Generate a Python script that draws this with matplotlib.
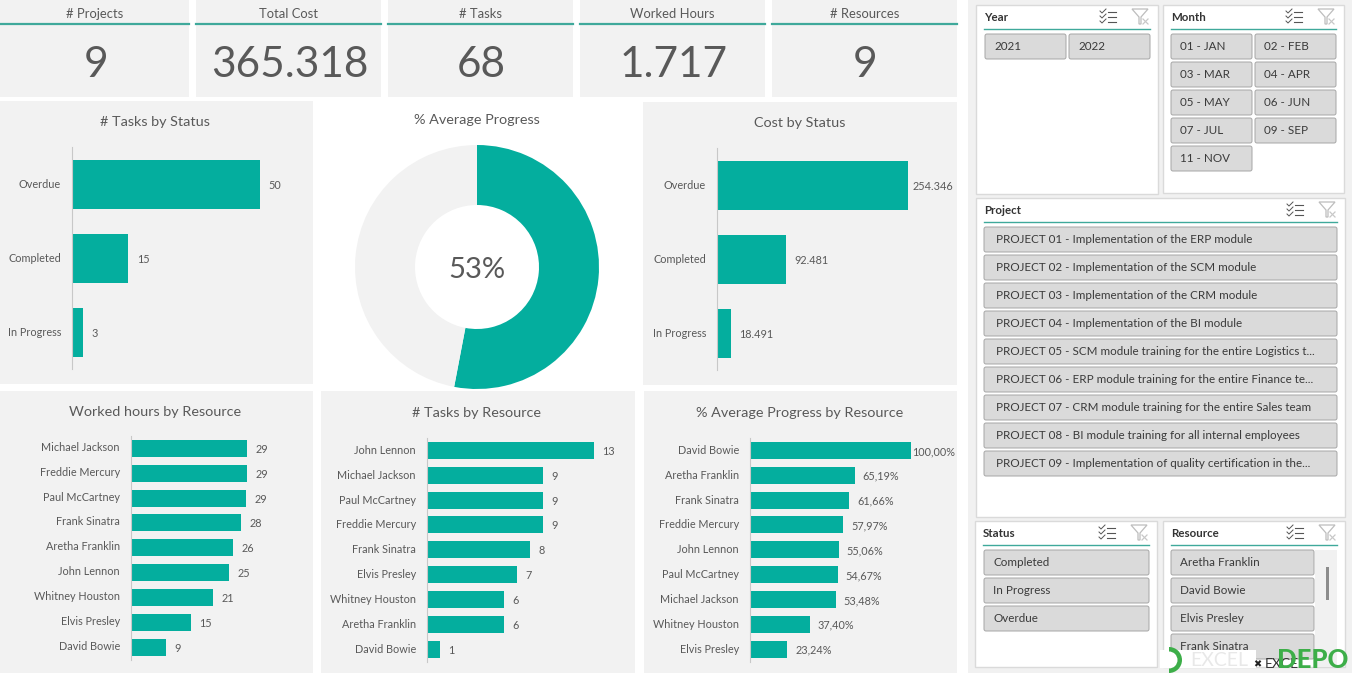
import matplotlib
matplotlib.use("Agg")
import matplotlib.pyplot as plt
from matplotlib.patches import Rectangle, FancyBboxPatch, Polygon, Wedge
from matplotlib.transforms import ScaledTranslation

plt.rcParams["font.family"] = ["Lato", "DejaVu Sans"]

W, H = 1352, 673
TEAL = "#04AE9E"
LINE = "#3FA99B"
PANEL = "#F2F2F2"
TXT = "#595959"

# KPI cards
kpi_titles = ["# Projects", "Total Cost", "# Tasks", "Worked Hours", "# Resources"]
kpi_values = ["9", "365.318", "68", "1.717", "9"]

# charts data
status_names = ["Overdue", "Completed", "In Progress"]
tasks_by_status = [50, 15, 3]
cost_by_status = [254346, 92481, 18491]
cost_labels = ["254.346", "92.481", "18.491"]
avg_progress = 53

hours_names = ["Michael Jackson", "Freddie Mercury", "Paul McCartney", "Frank Sinatra", "Aretha Franklin",
               "John Lennon", "Whitney Houston", "Elvis Presley", "David Bowie"]
hours_values = [29, 29, 28.8, 27.6, 25.6, 24.6, 20.6, 15, 8.8]

tasks_names = ["John Lennon", "Michael Jackson", "Paul McCartney", "Freddie Mercury", "Frank Sinatra",
               "Elvis Presley", "Whitney Houston", "Aretha Franklin", "David Bowie"]
tasks_values = [13, 9, 9, 9, 8, 7, 6, 6, 1]

progress_names = ["David Bowie", "Aretha Franklin", "Frank Sinatra", "Freddie Mercury", "John Lennon",
                  "Paul McCartney", "Michael Jackson", "Whitney Houston", "Elvis Presley"]
progress_values = [100.00, 65.19, 61.66, 57.97, 55.06, 54.67, 53.48, 37.40, 23.24]

# slicers
years = ["2021", "2022"]
months = ["01 - JAN", "02 - FEB", "03 - MAR", "04 - APR", "05 - MAY", "06 - JUN", "07 - JUL", "09 - SEP", "11 - NOV"]
projects = ["PROJECT 01 - Implementation of the ERP module",
            "PROJECT 02 - Implementation of the SCM module",
            "PROJECT 03 - Implementation of the CRM module",
            "PROJECT 04 - Implementation of the BI module",
            "PROJECT 05 - SCM module training for the entire Logistics t...",
            "PROJECT 06 - ERP module training for the entire Finance te...",
            "PROJECT 07 - CRM module training for the entire Sales team",
            "PROJECT 08 - BI module training for all internal employees",
            "PROJECT 09 - Implementation of quality certification in the..."]
statuses = ["Completed", "In Progress", "Overdue"]
resources = ["Aretha Franklin", "David Bowie", "Elvis Presley", "Frank Sinatra"]

fig = plt.figure(figsize=(W / 100, H / 100), dpi=100, facecolor="white")

# overlay in pixel coords for the dashboard frame
bg = fig.add_axes([0, 0, 1, 1], zorder=0)
bg.set_xlim(0, W)
bg.set_ylim(H, 0)
bg.axis("off")


def add_axes_px(x0, y0, x1, y1, **kw):
    return fig.add_axes([x0 / W, 1 - y1 / H, (x1 - x0) / W, (y1 - y0) / H], **kw)


def panel(x0, y0, x1, y1, color=PANEL, edge="none"):
    bg.add_patch(Rectangle((x0, y0), x1 - x0, y1 - y0, fc=color, ec=edge, lw=1))


# KPI cards
kpi_x = [(0, 189), (196, 381), (388, 573), (580, 765), (772, 957)]
for (x0, x1), t, v in zip(kpi_x, kpi_titles, kpi_values):
    panel(x0, 0, x1, 97)
    bg.plot([x0, x1], [24, 24], color=LINE, lw=1.6)
    bg.text((x0 + x1) / 2, 13.5, t, ha="center", va="center", fontsize=9.4, color=TXT)
    bg.text((x0 + x1) / 2 + (2 if x0 == 0 else 1), 65, v, ha="center", va="center", fontsize=30.5, color=TXT)


def hbar(px, axis_x, top, row_h, bar_h, scale, names, values, labels, title, title_xy, gaps=None, name_dy=1):
    x0, y0, x1, y1 = px
    panel(x0, y0, x1, y1)
    n = len(names)
    ax = add_axes_px(axis_x, top, x1, top + row_h * n, zorder=2)
    ax.patch.set_alpha(0)
    ax.barh(range(n), values, height=bar_h / row_h, color=TEAL)
    ax.set_xlim(0, (x1 - axis_x) / scale)
    ax.set_ylim(n - 0.5, -0.5)
    for s in ["top", "right", "bottom"]:
        ax.spines[s].set_visible(False)
    ax.spines["left"].set_color("#C8C8C8")
    ax.spines["left"].set_linewidth(0.8)
    ax.set_xticks([])
    ax.set_yticks(range(n))
    ax.set_yticklabels(names, fontsize=7.85, color=TXT)
    ax.tick_params(axis="y", length=0, pad=8)
    shift = ScaledTranslation(0, name_dy / 100, fig.dpi_scale_trans)
    for lab in ax.get_yticklabels():
        lab.set_verticalalignment("center_baseline")
        lab.set_transform(lab.get_transform() + shift)
    for i, (v, lab) in enumerate(zip(values, labels)):
        gap = gaps[i] if gaps else 6
        ax.annotate(lab, (v, i), xytext=(gap, 0), textcoords="offset points", va="center_baseline", fontsize=7.85, color=TXT,
                    annotation_clip=False)
    bg.text(title_xy[0], title_xy[1], title, ha="center", va="center", fontsize=10.4, color=TXT)


hbar((0, 101, 313, 384), 72, 147, 74, 49, 3.76, status_names, tasks_by_status,
     [str(v) for v in tasks_by_status], "# Tasks by Status", (155, 122))
hbar((643, 102, 957, 385), 717, 148, 74, 49, 191 / 254346, status_names, cost_by_status,
     cost_labels, "Cost by Status", (800, 123), gaps=[3.5, 6, 6])
hbar((0, 391, 313, 673), 131, 436, 24.85, 17, 4.0, hours_names, hours_values,
     [f"{v:.0f}" for v in hours_values], "Worked hours by Resource", (155, 412), name_dy=2)
hbar((321, 391, 635, 673), 427, 438, 24.85, 17, 12.85, tasks_names, tasks_values,
     [str(v) for v in tasks_values], "# Tasks by Resource", (477, 413))
hbar((644, 391, 957, 673), 750, 438, 24.85, 17, 1.61, progress_names, progress_values,
     [f"{v:.2f}".replace(".", ",") + "%" for v in progress_values], "% Average Progress by Resource", (800, 413),
     gaps=[0.7] + [5.5] * 8)

# donut
ax = add_axes_px(477 - 125, 267 - 125, 477 + 125, 267 + 125, zorder=2)
ax.pie([avg_progress, 100 - avg_progress], colors=[TEAL, PANEL], startangle=90, counterclock=False,
       radius=122 / 125, wedgeprops={"width": 60 / 125})
ax.set_xlim(-1, 1)
ax.set_ylim(-1, 1)
ax.text(0, -0.02, f"{avg_progress}%", ha="center", va="center", fontsize=21, color=TXT)
bg.text(477, 120, "% Average Progress", ha="center", va="center", fontsize=10.4, color=TXT)

# slicer area
panel(968, 0, W, H, "#F1F1F1")


def icons(x, y):
    for i in range(3):
        yy = y - 5 + i * 5
        bg.plot([x + 8, x + 16], [yy, yy], color="#555555", lw=0.8)
        bg.plot([x, x + 2, x + 6], [yy - 1, yy + 1, yy - 3], color="#555555", lw=0.7)
    fx = x + 32
    bg.add_patch(Polygon([(fx, y - 8), (fx + 16, y - 8), (fx + 9, y), (fx + 9, y + 7), (fx + 7, y + 7), (fx + 7, y)],
                         closed=True, fc="white", ec="#BDBDBD", lw=0.9))
    bg.plot([fx + 11, fx + 16], [y + 2, y + 7], color="#C8C8C8", lw=0.9)
    bg.plot([fx + 11, fx + 16], [y + 7, y + 2], color="#C8C8C8", lw=0.9)


def slicer(x0, y0, x1, y1, title):
    panel(x0, y0, x1, y1, "white", "#DADADA")
    bg.plot([x0 + 8, x1 - 8], [y0 + 24, y0 + 24], color=LINE, lw=1)
    bg.text(x0 + 8, y0 + 12.5, title, ha="left", va="center", fontsize=8.3, fontweight="bold", color="#333333")
    icons(x1 - 58, y0 + 12)


def button(x0, y0, x1, y1, label, text_x, clip=None):
    p = FancyBboxPatch((x0 + 2, y0 + 3), x1 - x0 - 4, y1 - y0 - 4, boxstyle="round,pad=2", fc="#DADADA", ec="#A6A6A6", lw=0.7)
    bg.add_patch(p)
    t = bg.text(text_x, (y0 + y1) / 2 + 1, label, ha="left", va="center", fontsize=8.4, color="#3A3A3A")
    if clip:
        p.set_clip_path(clip)
        t.set_clip_path(clip)


slicer(976, 5, 1158, 194, "Year")
for i, y in enumerate(years):
    button(985 + i * 84, 33, 1066 + i * 84, 58, y, 994 + i * 84)

slicer(1163, 5, 1344, 193, "Month")
for i, m in enumerate(months):
    col, row = i % 2, i // 2
    button(1171 + col * 84, 33 + row * 28, 1252 + col * 84, 58 + row * 28, m, 1180 + col * 84)

slicer(976, 198, 1345, 517, "Project")
for i, p in enumerate(projects):
    button(984, 226 + i * 28, 1337, 251 + i * 28, p, 996)

slicer(975, 521, 1157, 667, "Status")
for i, s in enumerate(statuses):
    button(984, 549 + i * 28, 1149, 574 + i * 28, s, 993)

slicer(1163, 521, 1345, 667, "Resource")
bg.add_patch(Rectangle((1315, 550), 22, 117, fc="#F1F1F1", ec="none"))
bg.add_patch(Rectangle((1326, 567), 3, 33, fc="#8C8C8C", ec="none"))
res_clip = Rectangle((1163, 521), 182, 146, transform=bg.transData)
for i, r in enumerate(resources):
    button(1171, 549 + i * 28, 1314, 574 + i * 28, r, 1180, res_clip)

# watermark
GREEN = "#3DAE49"
bg.add_patch(Rectangle((1160, 650), 96, 18, fc="white", ec="none", zorder=5))
bg.add_patch(Wedge((1169, 660), 13, -90, 90, width=4.5, fc=GREEN, ec="none", zorder=6, clip_on=False))
bg.text(1190, 660, "EXCEL", ha="left", va="center", fontsize=14, color="#E8E8E8", zorder=6)
bg.text(1253, 664, "✖", ha="left", va="center", fontsize=7, color="#222222", zorder=6, family=["DejaVu Sans"])
bg.text(1265, 664, "EXCEL", ha="left", va="center", fontsize=10, color="#333333", zorder=6)
bg.text(1277, 660, "DEPO", ha="left", va="center", fontsize=18.5, fontweight="black", color=GREEN, zorder=7)

fig.savefig("out.png", dpi=100)
